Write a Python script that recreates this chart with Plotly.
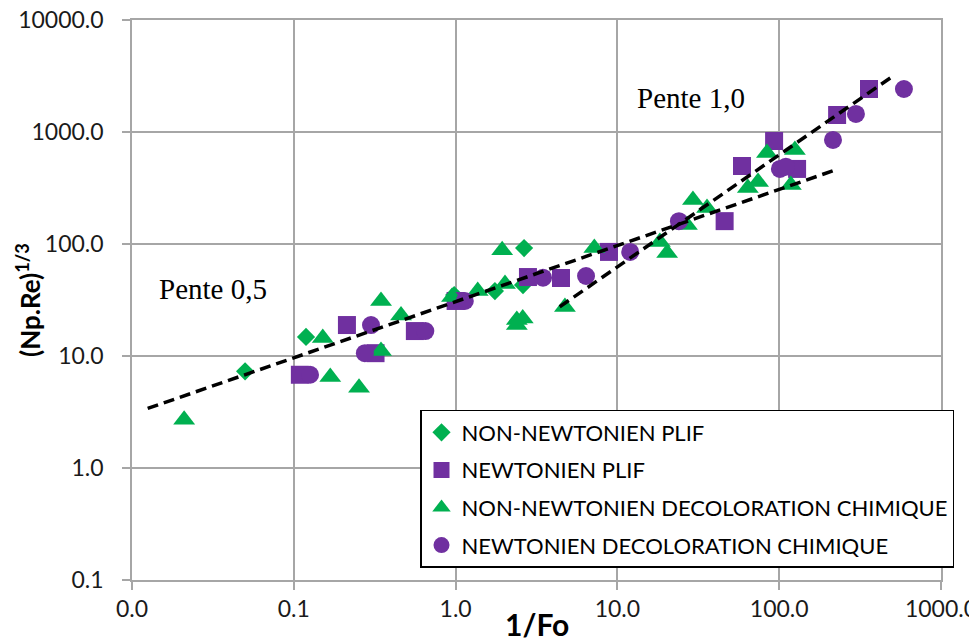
import plotly.graph_objects as go

GREEN = "#00B050"
PURPLE = "#7030A0"
GRID = "#a6a6a6"

# NON-NEWTONIEN PLIF
nn_plif_x = [0.05, 0.119, 0.98, 1.75, 2.61, 2.65]
nn_plif_y = [7.3, 14.8, 35, 38, 43, 92]

# NEWTONIEN PLIF
n_plif_x = [0.109, 0.213, 0.32, 0.56, 1.0, 2.8, 4.48, 8.87, 46, 58.9, 93, 129, 228, 359]
n_plif_y = [6.8, 18.9, 10.6, 16.7, 31, 50.7, 49.7, 85, 160, 497, 831, 468, 1419, 2421]

# NON-NEWTONIEN DECOLORATION CHIMIQUE
nn_dec_x = [0.021, 0.151, 0.168, 0.253, 0.346, 0.346, 0.46, 0.95, 1.37, 1.94, 2.02, 2.39,
            2.6, 2.39, 4.74, 7.2, 18.3, 20.3, 26.9, 29.3, 35.8, 64, 74, 84, 125, 118]
nn_dec_y = [2.7, 14.5, 6.5, 5.2, 31, 11.1, 23, 33.7, 38, 88, 44, 21,
            21.6, 18.9, 27.4, 92, 104, 83, 148, 247, 210, 316, 358, 649, 690, 336]

# NEWTONIEN DECOLORATION CHIMIQUE
n_dec_x = [0.126, 0.275, 0.30, 0.65, 1.14, 3.47, 6.4, 12.0, 24, 101, 110, 215, 298, 590]
n_dec_y = [6.8, 10.6, 18.9, 16.7, 31, 50, 51.8, 85, 160, 468, 490, 849, 1450, 2421]

# trend lines (end points)
slope05_x = [0.0125, 230]
slope05_y = [3.4, 466]
slope10_x = [4.4, 510]
slope10_y = [27.5, 3190]

x_ticks = [0.01, 0.1, 1, 10, 100, 1000]
x_ticktext = ["0.0", "0.1", "1.0", "10.0", "100.0", "1000.0"]
y_ticks = [0.1, 1, 10, 100, 1000, 10000]
y_ticktext = ["0.1", "1.0", "10.0", "100.0", "1000.0", "10000.0"]

SERIES = [
    ("NON-NEWTONIEN PLIF", nn_plif_x, nn_plif_y, "diamond", GREEN, 14),
    ("NEWTONIEN PLIF", n_plif_x, n_plif_y, "square", PURPLE, 18),
    ("NON-NEWTONIEN DECOLORATION CHIMIQUE", nn_dec_x, nn_dec_y, "triangle-up", GREEN, 19),
    ("NEWTONIEN DECOLORATION CHIMIQUE", n_dec_x, n_dec_y, "circle", PURPLE, 18),
]

fig = go.Figure()
for i, (name, xs, ys, symbol, color, size) in enumerate(SERIES):
    fig.add_trace(
        go.Scatter(
            x=xs,
            y=ys,
            mode="markers",
            name=name,
            legendgroup=f"g{i}",
            marker=dict(symbol=symbol, color=color, size=size, line=dict(width=0)),
        )
    )

for xs, ys in [(slope05_x, slope05_y), (slope10_x, slope10_y)]:
    fig.add_trace(
        go.Scatter(
            x=xs,
            y=ys,
            mode="lines",
            showlegend=False,
            line=dict(color="black", width=3.5, dash="11px,6px"),
            hoverinfo="skip",
        )
    )

fig.add_annotation(text="Pente 0,5", xref="paper", yref="paper", x=0.031, y=0.5196,
                   xanchor="left", yanchor="middle", showarrow=False,
                   font=dict(family="Liberation Serif", size=29, color="black"))
fig.add_annotation(text="Pente 1,0", xref="paper", yref="paper", x=0.6218, y=0.8607,
                   xanchor="left", yanchor="middle", showarrow=False,
                   font=dict(family="Liberation Serif", size=29, color="black"))

fig.add_annotation(text="<b>1/Fo</b>", xref="paper", yref="paper", x=0.5, y=-0.078,
                   xanchor="center", yanchor="middle", showarrow=False,
                   font=dict(family="Lato", size=30, color="black"))
fig.add_annotation(text="<b>(Np.Re)<sup>1/3</sup></b>", xref="paper", yref="paper",
                   x=-0.1286, y=0.5, xanchor="center", yanchor="middle", textangle=-90,
                   showarrow=False, font=dict(family="Lato", size=26, color="black"))

axis_common = dict(
    type="log",
    showgrid=True,
    gridcolor=GRID,
    gridwidth=1.5,
    showline=True,
    linecolor=GRID,
    linewidth=1.5,
    mirror=True,
    ticks="outside",
    ticklen=8,
    tickcolor=GRID,
    tickwidth=1.5,
    zeroline=False,
    automargin=False,
    ticklabeloverflow="allow",
    tickfont=dict(family="Lato", size=23, color="#1a1a1a"),
)

fig.update_xaxes(range=[-2, 3], tickvals=x_ticks, ticktext=x_ticktext, **axis_common)
fig.update_yaxes(range=[-1, 4], tickvals=y_ticks, ticktext=y_ticktext,
                 ticklabelstandoff=14, **axis_common)

# the page body has an 8px margin, so margins are shifted to keep the plot area in place
fig.update_layout(
    width=977,
    height=639,
    template="none",
    plot_bgcolor="white",
    paper_bgcolor="white",
    margin=dict(l=124, r=44, t=12, b=67),
    showlegend=True,
    legend=dict(
        x=0.356,
        y=0.3036,
        xanchor="left",
        yanchor="top",
        bgcolor="white",
        bordercolor="black",
        borderwidth=1.5,
        font=dict(family="Lato", size=22, color="black"),
        tracegroupgap=6,
        itemsizing="trace",
    ),
)

fig.write_html("out.html")
